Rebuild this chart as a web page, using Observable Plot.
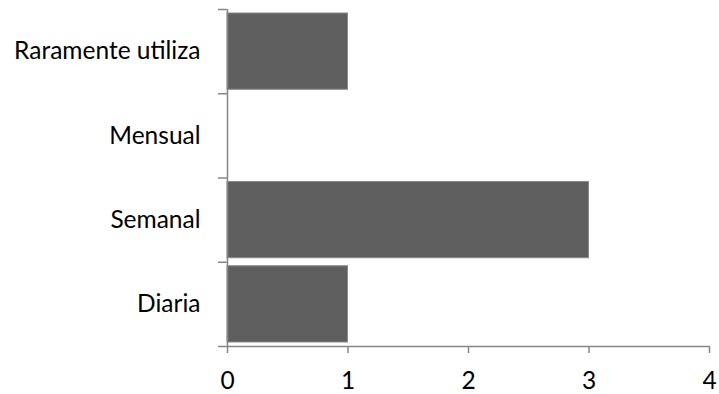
<!DOCTYPE html>
<html>
<head>
<meta charset="utf-8">
<script src="https://cdn.jsdelivr.net/npm/d3@7"></script>
<script src="https://cdn.jsdelivr.net/npm/@observablehq/plot@0.6"></script>
<style>
  html, body { margin: 0; padding: 0; background: #fff; }
  #chart svg { display: block; }
</style>
</head>
<body>
<div id="chart"></div>
<script>
// Frequency categories, listed from the bottom row to the top row
const categories = ["Diaria", "Semanal", "Mensual", "Raramente utiliza"];
const counts = [1, 3, 0, 1];
const xTicks = [0, 1, 2, 3, 4];

const rows = categories.map((name, i) => ({name, value: counts[i], row: i}));
const rowEdges = d3.range(categories.length + 1);
const rowCenters = categories.map((_, i) => i + 0.5);

const axisColor = "#868686";
const labelSize = 24.5;

const chart = Plot.plot({
  width: 719,
  height: 394,
  marginLeft: 227,
  marginRight: 10,
  marginTop: 9,
  marginBottom: 48,
  style: {fontFamily: "Lato, 'Open Sans', sans-serif", fontSize: `${labelSize}px`, color: "#000", background: "#fff"},
  x: {domain: [0, 4], label: null},
  y: {domain: [0, categories.length], label: null},
  marks: [
    // bars
    Plot.rectX(rows.filter(d => d.value > 0), {
      x1: 0, x2: "value", y1: "row", y2: d => d.row + 1,
      insetTop: 4, insetBottom: 4,
      fill: "#5f5f5f", stroke: "#8a8a8a", strokeWidth: 1
    }),
    // axis lines
    Plot.ruleX([0], {stroke: axisColor, strokeWidth: 1.5}),
    Plot.ruleY([0], {stroke: axisColor, strokeWidth: 1.5}),
    // category boundary ticks
    Plot.axisY(rowEdges, {
      tickSize: 9, text: null, label: null, stroke: axisColor, strokeWidth: 1.5
    }),
    // category labels
    Plot.axisY(rowCenters, {
      tickSize: 0, tickPadding: 27, label: null,
      tickFormat: d => categories[Math.floor(d)],
      fill: "#000", fontSize: labelSize
    }),
    // value axis
    Plot.axisX(xTicks, {
      tickSize: 7, tickPadding: 18, label: null, stroke: axisColor, strokeWidth: 1.5,
      tickFormat: d3.format("d"), fill: "#000", fontSize: labelSize
    })
  ]
});

document.getElementById("chart").appendChild(chart);
</script>
</body>
</html>
